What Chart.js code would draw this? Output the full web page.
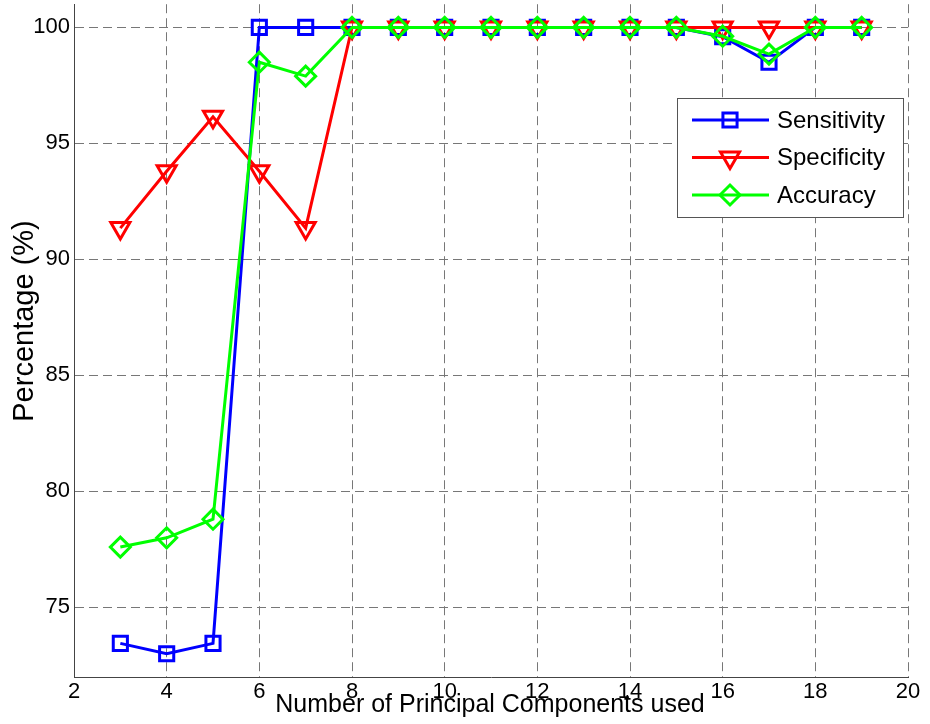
<!DOCTYPE html>
<html>
<head>
<meta charset="utf-8">
<script src="https://cdn.jsdelivr.net/npm/chart.js@4.4.1/dist/chart.umd.min.js"></script>
<style>
    body { margin: 0; background: #fff; }
    #wrap { width: 930px; height: 724px; }
</style>
</head>
<body>
<div id="wrap"><canvas id="chart" width="930" height="724"></canvas></div>
<script>
    // values
    const components = [3, 4, 5, 6, 7, 8, 9, 10, 11, 12, 13, 14, 15, 16, 17, 18, 19];
    const sensitivity = [73.45, 73.0, 73.45, 100, 100, 100, 100, 100, 100, 100, 100, 100, 100, 99.6, 98.5, 100, 100];
    const specificity = [91.35, 93.8, 96.15, 93.8, 91.35, 100, 100, 100, 100, 100, 100, 100, 100, 100, 100, 100, 100];
    const accuracy = [77.6, 78.0, 78.8, 98.5, 97.9, 100, 100, 100, 100, 100, 100, 100, 100, 99.62, 98.85, 100, 100];
    const seriesNames = ['Sensitivity', 'Specificity', 'Accuracy'];
    const xTicks = [2, 4, 6, 8, 10, 12, 14, 16, 18, 20];
    const yTicks = [75, 80, 85, 90, 95, 100];

    const FONT = 'Liberation Sans, Arial, sans-serif';

    function toPoints(values) {
        return components.map((c, i) => ({ x: c, y: values[i] }));
    }

    const styles = [
        { color: '#0000ff', pointStyle: 'rect', radius: 10, rotation: 0 },
        { color: '#ff0000', pointStyle: 'triangle', radius: 11, rotation: 180 },
        { color: '#00ff00', pointStyle: 'rectRot', radius: 10, rotation: 0 }
    ];

    const datasets = [sensitivity, specificity, accuracy].map((values, i) => ({
        label: seriesNames[i],
        data: toPoints(values),
        borderColor: styles[i].color,
        backgroundColor: 'transparent',
        borderWidth: 3,
        pointStyle: styles[i].pointStyle,
        pointRadius: styles[i].radius,
        pointRotation: styles[i].rotation,
        pointBorderColor: styles[i].color,
        pointBackgroundColor: 'transparent',
        pointBorderWidth: 3,
        tension: 0,
        clip: false,
        order: 3 - i
    }));

    // MATLAB style boxed legend with line + marker samples
    const matlabLegend = {
        id: 'matlabLegend',
        afterDatasetsDraw(chart) {
            const ctx = chart.ctx;
            const box = { x: 677, y: 98, w: 226, h: 119 };
            ctx.save();
            ctx.fillStyle = '#fff';
            ctx.fillRect(box.x, box.y, box.w, box.h);
            ctx.strokeStyle = '#555';
            ctx.lineWidth = 1;
            ctx.strokeRect(box.x + 0.5, box.y + 0.5, box.w, box.h);
            chart.data.datasets.forEach((ds, i) => {
                const y = 120 + i * 37.5;
                ctx.strokeStyle = ds.borderColor;
                ctx.lineWidth = 3;
                ctx.beginPath();
                ctx.moveTo(692, y);
                ctx.lineTo(769, y);
                ctx.stroke();
                ctx.fillStyle = 'rgba(0,0,0,0)';
                Chart.helpers.drawPoint(ctx, {
                    pointStyle: ds.pointStyle,
                    radius: ds.pointRadius,
                    rotation: ds.pointRotation,
                    borderWidth: 3
                }, 730, y);
                ctx.fillStyle = '#000';
                ctx.font = '24px ' + FONT;
                ctx.textBaseline = 'middle';
                ctx.textAlign = 'left';
                ctx.fillText(ds.label, 777, y + 1);
            });
            ctx.restore();
        }
    };

    const axisTitles = {
        id: 'axisTitles',
        afterDraw(chart) {
            const ctx = chart.ctx;
            ctx.save();
            ctx.fillStyle = '#000';
            ctx.font = '25px ' + FONT;
            ctx.textAlign = 'center';
            ctx.textBaseline = 'middle';
            ctx.fillText('Number of Principal Components used', 490, 705);
            ctx.translate(25, 321);
            ctx.rotate(-Math.PI / 2);
            ctx.font = '29px ' + FONT;
            ctx.fillText('Percentage (%)', 0, 0);
            ctx.restore();
        }
    };

    new Chart(document.getElementById('chart'), {
        type: 'line',
        data: { datasets },
        options: {
            responsive: false,
            animation: false,
            layout: { autoPadding: false, padding: { top: 4, right: 22, left: 0, bottom: 0 } },
            plugins: {
                legend: { display: false },
                tooltip: { enabled: false }
            },
            scales: {
                x: {
                    type: 'linear',
                    min: 2,
                    max: 20,
                    afterBuildTicks: (scale) => { scale.ticks = xTicks.map((v) => ({ value: v })); },
                    afterFit: (scale) => { scale.height = 47; },
                    grid: { color: '#777', lineWidth: 1, drawTicks: false },
                    border: { display: true, color: '#444', width: 1, dash: [9, 5] },
                    ticks: { color: '#000', padding: 2, maxRotation: 0, font: { family: FONT, size: 22 } }
                },
                y: {
                    min: 72,
                    max: 101,
                    afterBuildTicks: (scale) => { scale.ticks = yTicks.map((v) => ({ value: v })); },
                    afterFit: (scale) => { scale.width = 74; },
                    grid: { color: '#777', lineWidth: 1, drawTicks: false },
                    border: { display: true, color: '#444', width: 1, dash: [9, 5] },
                    // tiny lineHeight so the tick labels do not push the plot top down
                    ticks: { color: '#000', padding: 4, font: { family: FONT, size: 22, lineHeight: 0.02 } }
                }
            }
        },
        plugins: [matlabLegend, axisTitles]
    });
</script>
</body>
</html>
